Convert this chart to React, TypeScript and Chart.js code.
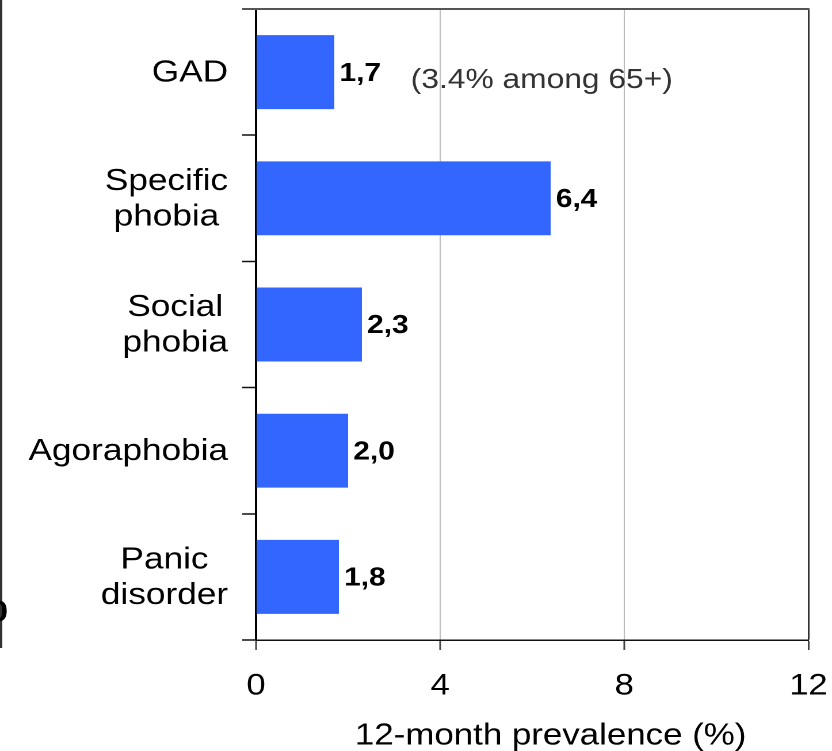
import React, { useEffect, useRef } from 'react';
import { Chart, registerables } from 'chart.js';

Chart.register(...registerables);

// ---- data ----
const categories: string[][] = [
  ['GAD'],
  ['Specific', 'phobia'],
  ['Social', 'phobia'],
  ['Agoraphobia'],
  ['Panic', 'disorder'],
];
const prevalence: number[] = [1.7, 6.4, 2.3, 2.0, 1.8];
const valueLabels: string[] = ['1,7', '6,4', '2,3', '2,0', '1,8'];
const xTickValues: number[] = [0, 4, 8, 12];
const axisTitle = '12-month prevalence (%)';
const noteText = '(3.4% among 65+)';
const noteCategoryIndex = 0;
const noteValue = 3.36;
const axisTitleCenterValue = 6.4;

// ---- layout (logical canvas is stretched horizontally to 832px) ----
const CSS_W = 832;
const CSS_H = 751;
const LOGICAL_W = 723;
const FONT = '"Liberation Sans", Arial, Helvetica, sans-serif';

const overlay = {
  id: 'overlay',
  afterDraw(chart: any) {
    const ctx = chart.ctx as CanvasRenderingContext2D;
    const ca = chart.chartArea;
    const xs = chart.scales.x;
    const ys = chart.scales.y;
    ctx.save();

    // top frame line (extends over the tick area like the reference)
    ctx.strokeStyle = '#555';
    ctx.lineWidth = 2;
    ctx.beginPath();
    ctx.moveTo(ca.left - 12, ca.top);
    ctx.lineTo(ca.right + 1, ca.top);
    ctx.stroke();

    // value labels
    const meta = chart.getDatasetMeta(0);
    ctx.font = `bold 26px ${FONT}`;
    ctx.fillStyle = '#000';
    ctx.textAlign = 'left';
    ctx.textBaseline = 'middle';
    meta.data.forEach((bar: any, i: number) => {
      ctx.fillText(valueLabels[i], bar.x + 4.5, bar.y + 1.5);
    });

    // note
    ctx.font = `27.6px ${FONT}`;
    ctx.fillStyle = '#333';
    ctx.fillText(noteText, xs.getPixelForValue(noteValue), ys.getPixelForValue(noteCategoryIndex) + 8.5);

    // category labels: block right-aligned, lines centred within block
    ctx.font = `30.6px ${FONT}`;
    ctx.fillStyle = '#000';
    ctx.textAlign = 'center';
    const lineH = 35.5;
    const right = ca.left - 24.3;
    categories.forEach((lines, i) => {
      const w = Math.max(...lines.map((l) => ctx.measureText(l).width));
      const cx = right - w / 2;
      const cy = ys.getPixelForValue(i) + 1;
      const start = cy - ((lines.length - 1) * lineH) / 2;
      lines.forEach((l, j) => ctx.fillText(l, cx, start + j * lineH));
    });

    // axis title
    ctx.font = `30.3px ${FONT}`;
    ctx.fillText(axisTitle, xs.getPixelForValue(axisTitleCenterValue), 736);

    // remnant of neighbouring figure at the far left
    ctx.strokeStyle = '#333';
    ctx.lineWidth = 2;
    ctx.beginPath();
    ctx.moveTo(1, 0);
    ctx.lineTo(1, 648);
    ctx.stroke();
    ctx.font = `bold 29px ${FONT}`;
    ctx.fillStyle = '#000';
    ctx.textAlign = 'right';
    ctx.fillText('0', 7, 613);

    ctx.restore();
  },
};

export default function App() {
  const ref = useRef<HTMLCanvasElement | null>(null);

  useEffect(() => {
    document.body.style.margin = '0';
    document.body.style.overflow = 'hidden';
    const canvas = ref.current!;
    const chart = new Chart(canvas, {
      type: 'bar',
      data: {
        labels: categories,
        datasets: [
          {
            data: prevalence,
            backgroundColor: '#3366FF',
            borderWidth: 0,
            barPercentage: 0.586,
            categoryPercentage: 1,
          },
        ],
      },
      options: {
        indexAxis: 'y',
        responsive: false,
        animation: false,
        devicePixelRatio: 2,
        layout: { padding: { top: 9, right: 20.5, left: 0, bottom: 0 } },
        plugins: {
          legend: { display: false },
          tooltip: { enabled: false },
          title: { display: false },
        },
        scales: {
          x: {
            type: 'linear',
            min: 0,
            max: 12,
            afterBuildTicks: (scale: any) => {
              scale.ticks = xTickValues.map((v) => ({ value: v }));
            },
            afterFit: (scale: any) => {
              scale.height = 111;
              scale.paddingLeft = 0;
              scale.paddingRight = 0;
              scale.paddingTop = 0;
              scale.paddingBottom = 0;
            },
            ticks: {
              color: '#000',
              font: { family: FONT, size: 30 },
              padding: 18,
              maxRotation: 0,
            },
            grid: {
              color: (c: any) =>
                c.tick && c.tick.value === 0
                  ? 'rgba(0,0,0,0)'
                  : c.tick && c.tick.value === 12
                  ? '#333'
                  : '#bbb',
              lineWidth: (c: any) => (c.tick && c.tick.value === 12 ? 1.5 : 1),
              tickColor: '#444',
              tickLength: 10,
              tickWidth: 1.5,
              drawTicks: true,
            },
            border: { display: true, color: '#111', width: 1.5 },
          },
          y: {
            type: 'category',
            offset: true,
            afterFit: (scale: any) => {
              scale.width = 222.5;
              scale.paddingLeft = 0;
              scale.paddingRight = 0;
              scale.paddingTop = 0;
              scale.paddingBottom = 0;
            },
            ticks: {
              color: 'rgba(0,0,0,0)',
              font: { family: FONT, size: 30 },
              padding: 12,
            },
            grid: {
              offset: true,
              drawOnChartArea: false,
              drawTicks: true,
              tickLength: 12,
              tickColor: '#111',
              tickWidth: 1.5,
              color: '#111',
            },
            border: { display: true, color: '#000', width: 2 },
          },
        },
      },
      plugins: [overlay],
    } as any);
    return () => chart.destroy();
  }, []);

  return (
    <canvas
      ref={ref}
      width={LOGICAL_W}
      height={CSS_H}
      style={{ width: `${CSS_W}px`, height: `${CSS_H}px`, display: 'block' }}
    />
  );
}
